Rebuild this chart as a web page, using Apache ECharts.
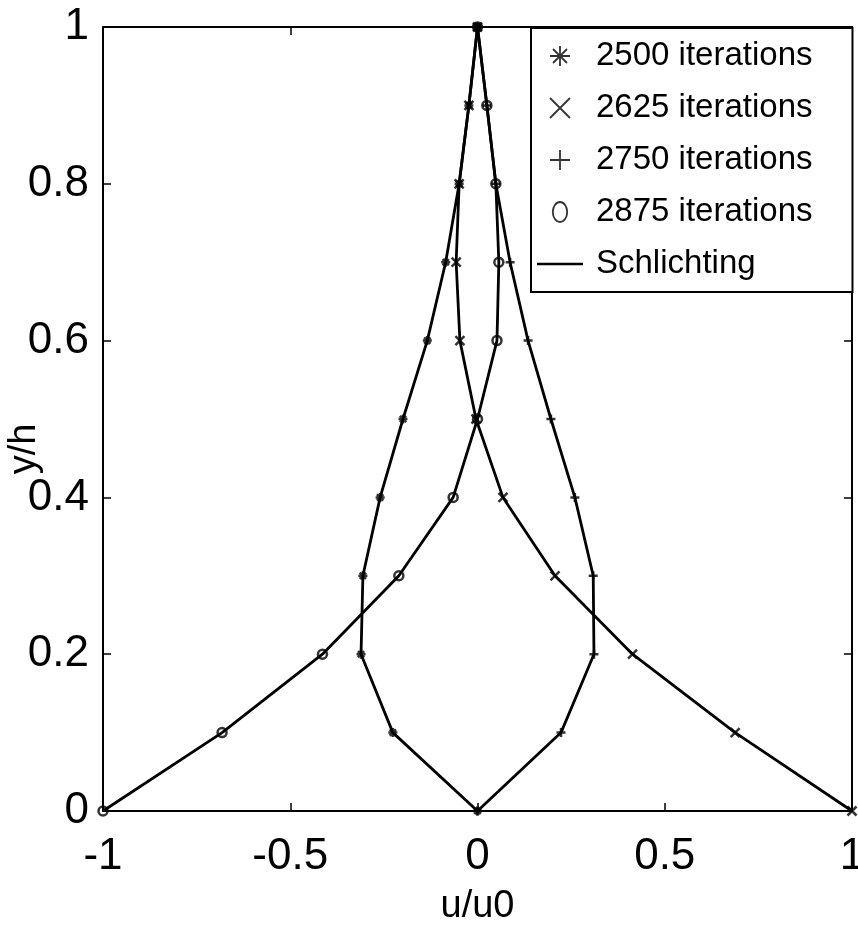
<!DOCTYPE html>
<html>
<head>
<meta charset="utf-8">
<script src="https://cdn.jsdelivr.net/npm/echarts@6/dist/echarts.min.js"></script>
<style>
  html, body { margin: 0; padding: 0; background: #fff; }
  #chart { width: 858px; height: 925px; }
</style>
</head>
<body>
<div id="chart"></div>
<script>
// Velocity profiles u/u0 at heights y/h between two oscillating plates
const yLevels = [0, 0.1, 0.2, 0.3, 0.4, 0.5, 0.6, 0.7, 0.8, 0.9, 1];
const u2500 = [0, -0.226, -0.311, -0.306, -0.26, -0.199, -0.134, -0.085, -0.049, -0.023, 0];
const u2625 = [1, 0.688, 0.414, 0.207, 0.068, -0.004, -0.047, -0.057, -0.049, -0.023, 0];
const u2750 = [0, 0.223, 0.311, 0.309, 0.26, 0.196, 0.135, 0.087, 0.049, 0.025, 0];
const u2875 = [-1, -0.682, -0.414, -0.21, -0.065, 0.0, 0.052, 0.057, 0.049, 0.025, 0];
const seriesNames = ['2500 iterations', '2625 iterations', '2750 iterations', '2875 iterations'];
const lineName = 'Schlichting';
const xTicks = { min: -1, max: 1, step: 0.5 };
const yTicks = { min: 0, max: 1, step: 0.2 };

const FONT = '"Liberation Sans Narrow", "Arial Narrow", "Liberation Sans", Arial, sans-serif';

// MATLAB-style marker outlines
const markerPaths = [
  'path://M5,0L5,10M0,5L10,5M1.5,1.5L8.5,8.5M8.5,1.5L1.5,8.5', // asterisk
  'path://M0,0L10,10M10,0L0,10',                             // cross
  'path://M5,0L5,10M0,5L10,5',                               // plus
  'path://M5,0A3.6,5,0,1,1,4.99,0Z'                          // circle
];
const profiles = [u2500, u2625, u2750, u2875];

function pairs(u) { return u.map((v, i) => [v, yLevels[i]]); }

const markerStyle = { color: 'rgba(0,0,0,0)', borderColor: '#000', borderWidth: 2.5 };

const series = [];
profiles.forEach(u => {
  series.push({
    name: lineName, type: 'line', data: pairs(u),
    symbol: 'none', showSymbol: false, lineStyle: { color: '#000', width: 2.8 },
    itemStyle: { color: '#000' }, z: 2, animation: false
  });
});
profiles.forEach((u, k) => {
  series.push({
    name: seriesNames[k], type: 'scatter', data: pairs(u),
    symbol: markerPaths[k], symbolSize: 9,
    itemStyle: markerStyle, z: 3, animation: false
  });
});

const axisCommon = {
  axisLine: { show: true, onZero: false, lineStyle: { color: '#000', width: 2 } },
  axisTick: { show: true, inside: true, length: 8, lineStyle: { color: '#000', width: 1.5 } },
  splitLine: { show: false }
};

const option = {
  backgroundColor: '#fff',
  animation: false,
  grid: { left: 103, right: 6, top: 27, bottom: 114, containLabel: false, outerBoundsMode: 'none' },
  xAxis: [
    Object.assign({
      type: 'value', position: 'bottom', min: xTicks.min, max: xTicks.max, interval: xTicks.step,
      name: 'u/u0', nameLocation: 'middle', nameGap: 77, nameMoveOverlap: false,
      nameTextStyle: { fontFamily: FONT, fontSize: 38, color: '#000' },
      axisLabel: { fontFamily: FONT, fontSize: 44, color: '#000', margin: 24 }
    }, axisCommon),
    Object.assign({
      type: 'value', position: 'top', min: xTicks.min, max: xTicks.max, interval: xTicks.step,
      axisLabel: { show: false }
    }, axisCommon)
  ],
  yAxis: [
    Object.assign({
      type: 'value', position: 'left', min: yTicks.min, max: yTicks.max, interval: yTicks.step,
      name: 'y/h', nameLocation: 'middle', nameGap: 59, nameRotate: 90, nameMoveOverlap: false,
      nameTextStyle: { fontFamily: FONT, fontSize: 38, color: '#000', padding: [0, 60, 0, 0] },
      axisLabel: { fontFamily: FONT, fontSize: 44, color: '#000', margin: 14 }
    }, axisCommon),
    Object.assign({
      type: 'value', position: 'right', min: yTicks.min, max: yTicks.max, interval: yTicks.step,
      axisLabel: { show: false }
    }, axisCommon)
  ],
  legend: {
    orient: 'vertical', left: 531, top: 28,
    padding: [8, 40, 8, 6],
    itemWidth: 46, itemHeight: 20, itemGap: 12,
    backgroundColor: '#fff', borderColor: '#000', borderWidth: 2,
    textStyle: { fontFamily: FONT, fontSize: 33, color: '#000', lineHeight: 40, padding: [0, 0, 0, 8] },
    data: seriesNames.map((n, k) => ({
      name: n, icon: markerPaths[k],
      itemStyle: { color: 'rgba(0,0,0,0)', borderColor: '#000', borderWidth: 1.8 }
    })).concat([{
      name: lineName, icon: 'path://M0,0L46,0L46,2.4L0,2.4Z',
      itemStyle: { color: '#000', borderWidth: 0 }
    }]),
    selectedMode: false
  },
  series: series
};

const chart = echarts.init(document.getElementById('chart'), null, { renderer: 'canvas' });
chart.setOption(option);
</script>
</body>
</html>
